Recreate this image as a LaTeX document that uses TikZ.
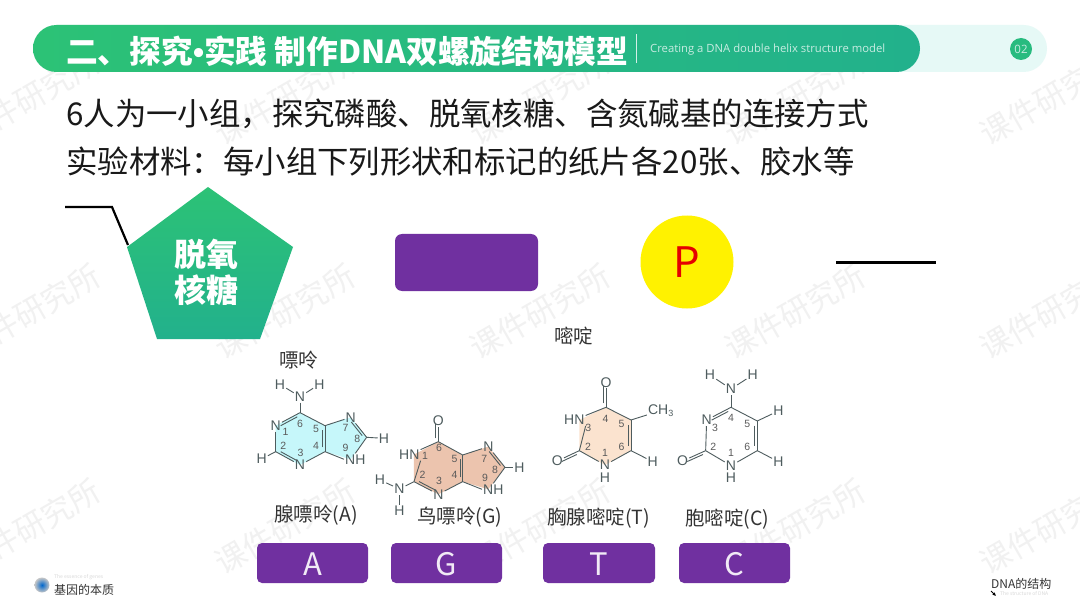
\documentclass[tikz,border=0pt]{standalone}
\usepackage{fontspec}
\setmainfont{Noto Sans CJK SC}
\newfontfamily\chemf{Liberation Sans}
\newfontfamily\enf{Open Sans}
\usetikzlibrary{calc,arrows.meta}
\definecolor{bondc}{HTML}{4E5C5E}
\definecolor{numc}{HTML}{5A5A5A}
\definecolor{wm}{HTML}{F1F1F1}
\definecolor{purp}{HTML}{7030A0}
\definecolor{gA}{HTML}{2CC276}
\definecolor{gB}{HTML}{22B18C}
\definecolor{pale}{HTML}{E6F9F6}
\definecolor{adfill}{HTML}{C6F7FA}
\definecolor{gufill}{HTML}{ECC4AE}
\definecolor{thfill}{HTML}{FBE3CF}
\newcounter{autonm}
\newcommand{\Atm}[3]{\node[atomnode] (#1) at (#2) {#3};}
\newcommand{\Vtx}[2]{\coordinate (#1) at (#2);}
\newcommand{\Nmb}[2]{\stepcounter{autonm}\node[numnode] (nb\theautonm) at (#1) {#2};}
\newcommand{\Sgl}[2]{\draw[bondline] (#1) -- (#2);}
\newcommand{\Dbl}[3]{\draw[bondline] (#1) -- (#2);
  \draw[bondline] ($(#1)!.16!(#2)!2.4pt!#3:(#2)$) -- ($(#2)!.16!(#1)!-2.4pt!#3:(#1)$);}
\newcommand{\Wmk}[1]{\stepcounter{autonm}\node[wmnode] (wm\theautonm) at (#1) {课件研究所};}
\tikzset{
  atomnode/.style={font=\chemf\fontsize{14}{14}\selectfont,text=bondc,inner sep=1.2pt,outer sep=0pt},
  numnode/.style={font=\chemf\fontsize{10.5}{11}\selectfont,text=numc,inner sep=0pt},
  bondline/.style={draw=bondc,line width=.9pt},
  wmnode/.style={font=\fontsize{31}{31}\selectfont,text=wm,rotate=30,inner sep=0pt},
  body/.style={font=\fontsize{31.4}{32}\selectfont,text=black!90,anchor=west,inner sep=0pt},
  caption/.style={font=\fontsize{19.5}{20}\selectfont,text=black!80,anchor=west,inner sep=0pt},
  basebtn/.style={fill=purp,rounded corners=5pt,draw=none},
  btnlab/.style={font=\fontsize{31}{32}\selectfont,text=white!90!purp,inner sep=0pt},
  foot/.style={font=\fontsize{12}{13}\selectfont,text=black!80,anchor=west,inner sep=0pt},
  faint/.style={font=\fontsize{5}{6}\selectfont,text=black!15,anchor=west,inner sep=0pt},
  mol/.style={x=.3333pt,y=-.3333pt}
}
\begin{document}
\begin{tikzpicture}[x=1pt,y=-1pt]
\useasboundingbox (0,0) rectangle (1080,607);
\fill[white] (0,0) rectangle (1080,607);
% watermarks
\begin{scope}
\clip (0,0) rectangle (1080,607);
\foreach \yy in {98,312,527}{\foreach \xx in {30,285,540,795,1050}{\Wmk{\xx,\yy}}}
\end{scope}
% header
\fill[pale,rounded corners=23.5pt] (33,25) rectangle (1047,72);
\shade[left color=gA,right color=gB,rounded corners=23.5pt] (33,25) rectangle (920,72);
\node[font=\bfseries\fontsize{31.7}{32}\selectfont,text=white,anchor=west,inner sep=0pt] (title) at (66,51) {二、探究{\chemf\bfseries •}实践 制作DNA双螺旋结构模型};
\coordinate (sepa) at (636,34); \coordinate (sepb) at (636,63);
\draw[white!80!gB,line width=.6pt] (sepa) -- (sepb);
\node[font=\enf\fontsize{11.3}{13}\selectfont,text=white!75!gB,anchor=west,inner sep=0pt] (entitle) at (650,49.5) {Creating a DNA double helix structure model};
\node[circle,fill=gA!60!gB,minimum size=22pt,inner sep=0pt,font=\enf\fontsize{11.5}{13}\selectfont,text=white!75!gB] (pgnum) at (1021,49) {02};
% body text
\node[body] (lineone) at (66,114) {6人为一小组，探究磷酸、脱氧核糖、含氮碱基的连接方式};
\node[body] (linetwo) at (66,162) {实验材料：每小组下列形状和标记的纸片各20张、胶水等};
% shapes
\coordinate (la) at (65,207); \coordinate (lb) at (112,207); \coordinate (lc) at (128,245);
\draw[black,line width=2.2pt] (la) -- (lb) -- (lc);
\shade[top color=gA,bottom color=gB] (208,187) -- (293,247) -- (260,339) -- (157,339) -- (127,247) -- cycle;
\node[font=\bfseries\fontsize{32}{38}\selectfont,text=white,align=center,inner sep=0pt] (sugar) at (206,272) {脱氧\\[-2pt]核糖};
\fill[basebtn,rounded corners=7pt] (395,234) rectangle (538,291);
\node[circle,fill=yellow,minimum size=93pt,inner sep=0pt,font=\fontsize{42}{42}\selectfont,text=red!90!black] (phos) at (687,262) {P};
\coordinate (ra) at (836,262); \coordinate (rb) at (936,262);
\draw[black,line width=3pt] (ra) -- (rb);
% captions
\node[caption] (pu) at (279,360) {嘌呤};
\node[caption] (mi) at (554,336) {嘧啶};
\node[caption] (ca) at (274,515) {腺嘌呤(A)};
\node[caption] (cg) at (417,517) {鸟嘌呤(G)};
\node[caption] (ct) at (547,518) {胸腺嘧啶(T)};
\node[caption] (cc) at (685,519) {胞嘧啶(C)};
% buttons
\fill[basebtn] (257,543) rectangle (368,583); \node[btnlab] (ba) at (312.5,564) {A};
\fill[basebtn] (391,543) rectangle (502,583); \node[btnlab] (bg) at (446.5,564) {G};
\fill[basebtn] (543,543) rectangle (655,583); \node[btnlab] (bt) at (599,564) {T};
\fill[basebtn] (679,543) rectangle (790,583); \node[btnlab] (bc) at (734.5,564) {C};
% adenine
\begin{scope}[shift={(240pt,-340pt)},mol]
\fill[adfill] (180,218)--(255,257)--(332,232)--(380,292)--(332,358)--(255,335)--(180,375)--(107,335)--(107,257)--cycle;
\Atm{aNH}{180,170}{N}\Atm{aH1}{120,133}{H}\Atm{aH2}{238,133}{H}
\Vtx{aC6}{180,218}\Atm{aN1}{107,257}{N}\Vtx{aC2}{107,335}\Atm{aN3}{180,375}{N}
\Vtx{aC4}{255,335}\Vtx{aC5}{255,257}\Atm{aN7}{332,232}{N}\Vtx{aC8}{380,292}
\Atm{aN9}{346,358}{NH}\Atm{aH3}{65,357}{H}\Atm{aH4}{432,295}{H}
\Sgl{aNH}{aH1}\Sgl{aNH}{aH2}\Sgl{aNH}{aC6}\Dbl{aN1}{aC6}{-90}\Sgl{aN1}{aC2}\Dbl{aC2}{aN3}{90}
\Sgl{aN3}{aC4}\Dbl{aC4}{aC5}{90}\Sgl{aC5}{aC6}\Sgl{aC5}{aN7}\Dbl{aN7}{aC8}{-90}
\Sgl{aC8}{aN9.north}\Sgl{aN9.west}{aC4}\Sgl{aC2}{aH3}\Sgl{aC8}{aH4}
\Nmb{137,275}{1}\Nmb{130,318}{2}\Nmb{182,340}{3}\Nmb{228,318}{4}\Nmb{228,268}{5}\Nmb{180,252}{6}\Nmb{317,265}{7}\Nmb{352,298}{8}\Nmb{317,325}{9}
\end{scope}
% guanine
\begin{scope}[shift={(240pt,-340pt)},mol]
\fill[gufill] (595,305)--(668,345)--(745,320)--(795,382)--(745,448)--(668,425)--(595,463)--(522,425)--(522,344)--cycle;
\Atm{gO}{595,242}{O}\Vtx{gC6}{595,305}\Atm{gN1}{508,344}{HN}\Vtx{gC2}{522,425}\Atm{gN3}{595,463}{N}
\Vtx{gC4}{668,425}\Vtx{gC5}{668,345}\Atm{gN7}{745,320}{N}\Vtx{gC8}{795,382}\Atm{gN9}{760,448}{NH}
\Atm{gN2}{478,447}{N}\Atm{gH1}{420,420}{H}\Atm{gH2}{478,512}{H}\Atm{gH3}{838,382}{H}
\Dbl{gC6}{gO}{90}\Sgl{gC6}{gN1}\Sgl{gC2}{gN1.south east}\Dbl{gC2}{gN3}{90}\Sgl{gN3}{gC4}\Dbl{gC4}{gC5}{90}
\Sgl{gC5}{gC6}\Sgl{gC5}{gN7}\Dbl{gN7}{gC8}{-90}\Sgl{gC8}{gN9.north}\Sgl{gN9.west}{gC4}
\Sgl{gC2}{gN2}\Sgl{gN2}{gH1}\Sgl{gN2}{gH2}\Sgl{gC8}{gH3}
\Nmb{555,348}{1}\Nmb{548,404}{2}\Nmb{597,424}{3}\Nmb{644,404}{4}\Nmb{644,358}{5}\Nmb{597,325}{6}\Nmb{733,356}{7}\Nmb{765,390}{8}\Nmb{735,415}{9}
\end{scope}
% thymine
\begin{scope}[shift={(530pt,-320pt)},mol]
\fill[thfill] (228,262)--(303,300)--(303,392)--(225,435)--(148,392)--(148,300)--cycle;
\Atm{tO1}{228,187}{O}\Vtx{tC4}{228,262}\Atm{tN3}{133,300}{HN}\Vtx{tC2}{148,392}\Atm{tO2}{82,423}{O}
\Atm{tN1}{225,435}{N}\Atm{tH1}{225,473}{H}\Vtx{tC6}{303,392}\Vtx{tC5}{303,300}
\node[atomnode] (tMe) at (392,272) {CH\raisebox{-2pt}{\fontsize{9}{9}\selectfont 3}};
\Atm{tH2}{368,425}{H}
\Dbl{tC4}{tO1}{90}\Sgl{tC4}{tN3}\Sgl{tN3.south east}{tC2}\Dbl{tC2}{tO2}{90}\Sgl{tC2}{tN1}\Sgl{tN1}{tC6}
\Dbl{tC5}{tC6}{-90}\Sgl{tC5}{tC4}\Sgl{tC5}{tMe}\Sgl{tC6}{tH2}
\Nmb{225,398}{1}\Nmb{174,380}{2}\Nmb{175,325}{3}\Nmb{227,298}{4}\Nmb{275,313}{5}\Nmb{275,380}{6}
\end{scope}
% cytosine
\begin{scope}[shift={(530pt,-320pt)},mol]
\Atm{cH1}{540,165}{H}\Atm{cH2}{668,165}{H}\Atm{cNH}{603,207}{N}\Vtx{cC4}{603,262}\Atm{cN3}{530,300}{N}
\Vtx{cC2}{527,392}\Atm{cO}{458,423}{O}\Atm{cN1}{603,437}{N}\Atm{cH3}{603,473}{H}\Vtx{cC6}{682,392}\Vtx{cC5}{682,303}
\Atm{cH4}{745,273}{H}\Atm{cH5}{745,425}{H}
\Sgl{cNH}{cH1}\Sgl{cNH}{cH2}\Sgl{cNH}{cC4}\Dbl{cN3}{cC4}{-90}\Sgl{cN3}{cC2}\Dbl{cC2}{cO}{90}\Sgl{cC2}{cN1}\Sgl{cN1}{cC6}
\Dbl{cC5}{cC6}{-90}\Sgl{cC5}{cC4}\Sgl{cC5}{cH4}\Sgl{cC6}{cH5}
\Nmb{603,398}{1}\Nmb{550,380}{2}\Nmb{555,325}{3}\Nmb{603,295}{4}\Nmb{652,313}{5}\Nmb{652,380}{6}
\end{scope}
% footer
\shade[inner color=blue!50!cyan!80!black,outer color=black!22] (42,585) circle (7.5pt);
\node[faint] (ften) at (54,577) {The essence of genes};
\node[foot] (fcn) at (54,589.5) {基因的本质};
\node[foot] (fr) at (991,584) {DNA的结构};
\node[faint] (fren) at (1000,594) {The structure of DNA};
\coordinate (fa) at (991,591); \coordinate (fb) at (996,596);
\draw[black,line width=.9pt,-{Latex[length=3.5pt,width=3.5pt]}] (fa) -- (fb);
\end{tikzpicture}
\end{document}
